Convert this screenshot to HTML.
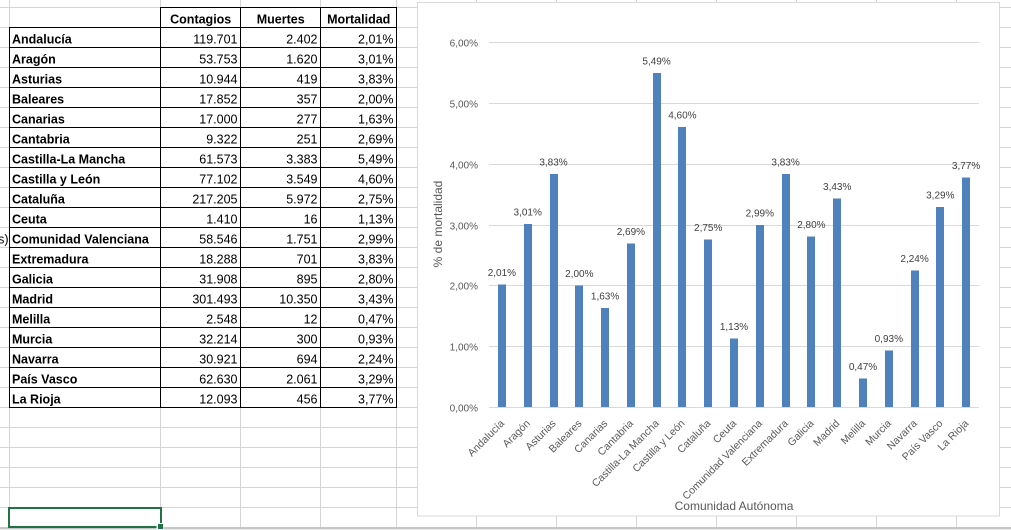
<!DOCTYPE html>
<html><head><meta charset="utf-8"><style>
html,body{margin:0;padding:0;background:#fff;width:1011px;height:530px;overflow:hidden}
svg{display:block}
.g{stroke:#d4d4d4;stroke-width:1}
.b{stroke:#000;stroke-width:1}
.nm{font:bold 12.5px "Liberation Sans",sans-serif;fill:#000}
.nu{font:12.5px "Liberation Sans",sans-serif;fill:#000;text-anchor:end}
.hd{font:bold 12.5px "Liberation Sans",sans-serif;fill:#000;text-anchor:middle}
.tk{font:10px "Liberation Sans",sans-serif;fill:#595959;text-anchor:end}
.dl{font:10px "Liberation Sans",sans-serif;fill:#404040;text-anchor:middle}
.xl{font:10.5px "Liberation Sans",sans-serif;fill:#595959;text-anchor:end}
.ti{font:12px "Liberation Sans",sans-serif;fill:#595959;text-anchor:middle}
</style></head><body>
<svg width="1011" height="530" viewBox="0 0 1011 530" xmlns="http://www.w3.org/2000/svg">
<rect width="1011" height="530" fill="#fff"/>
<g shape-rendering="crispEdges">
<g class="g">
<line x1="0" y1="7.5" x2="1011" y2="7.5"/><line x1="0" y1="27.5" x2="1011" y2="27.5"/><line x1="0" y1="47.5" x2="1011" y2="47.5"/><line x1="0" y1="67.5" x2="1011" y2="67.5"/><line x1="0" y1="87.5" x2="1011" y2="87.5"/><line x1="0" y1="107.5" x2="1011" y2="107.5"/><line x1="0" y1="127.5" x2="1011" y2="127.5"/><line x1="0" y1="147.5" x2="1011" y2="147.5"/><line x1="0" y1="167.5" x2="1011" y2="167.5"/><line x1="0" y1="187.5" x2="1011" y2="187.5"/><line x1="0" y1="207.5" x2="1011" y2="207.5"/><line x1="0" y1="227.5" x2="1011" y2="227.5"/><line x1="0" y1="247.5" x2="1011" y2="247.5"/><line x1="0" y1="267.5" x2="1011" y2="267.5"/><line x1="0" y1="287.5" x2="1011" y2="287.5"/><line x1="0" y1="307.5" x2="1011" y2="307.5"/><line x1="0" y1="327.5" x2="1011" y2="327.5"/><line x1="0" y1="347.5" x2="1011" y2="347.5"/><line x1="0" y1="367.5" x2="1011" y2="367.5"/><line x1="0" y1="387.5" x2="1011" y2="387.5"/><line x1="0" y1="407.5" x2="1011" y2="407.5"/><line x1="0" y1="427.5" x2="1011" y2="427.5"/><line x1="0" y1="447.5" x2="1011" y2="447.5"/><line x1="0" y1="467.5" x2="1011" y2="467.5"/><line x1="0" y1="487.5" x2="1011" y2="487.5"/><line x1="0" y1="507.5" x2="1011" y2="507.5"/>
<line x1="9.5" y1="0" x2="9.5" y2="527"/><line x1="160.5" y1="0" x2="160.5" y2="527"/><line x1="240.5" y1="0" x2="240.5" y2="527"/><line x1="320.5" y1="0" x2="320.5" y2="527"/><line x1="396.5" y1="0" x2="396.5" y2="527"/><line x1="476.5" y1="0" x2="476.5" y2="527"/><line x1="556.5" y1="0" x2="556.5" y2="527"/><line x1="636.5" y1="0" x2="636.5" y2="527"/><line x1="716.5" y1="0" x2="716.5" y2="527"/><line x1="796.5" y1="0" x2="796.5" y2="527"/><line x1="876.5" y1="0" x2="876.5" y2="527"/><line x1="956.5" y1="0" x2="956.5" y2="527"/>
</g>
<rect x="0" y="527" width="1011" height="2" fill="#c6c6c6"/>
<rect x="0" y="529" width="1011" height="1" fill="#e8e8e8"/>
<g class="b">
<line x1="160" y1="7.5" x2="397" y2="7.5"/>
<line x1="9" y1="27.5" x2="397" y2="27.5"/><line x1="9" y1="47.5" x2="397" y2="47.5"/><line x1="9" y1="67.5" x2="397" y2="67.5"/><line x1="9" y1="87.5" x2="397" y2="87.5"/><line x1="9" y1="107.5" x2="397" y2="107.5"/><line x1="9" y1="127.5" x2="397" y2="127.5"/><line x1="9" y1="147.5" x2="397" y2="147.5"/><line x1="9" y1="167.5" x2="397" y2="167.5"/><line x1="9" y1="187.5" x2="397" y2="187.5"/><line x1="9" y1="207.5" x2="397" y2="207.5"/><line x1="9" y1="227.5" x2="397" y2="227.5"/><line x1="9" y1="247.5" x2="397" y2="247.5"/><line x1="9" y1="267.5" x2="397" y2="267.5"/><line x1="9" y1="287.5" x2="397" y2="287.5"/><line x1="9" y1="307.5" x2="397" y2="307.5"/><line x1="9" y1="327.5" x2="397" y2="327.5"/><line x1="9" y1="347.5" x2="397" y2="347.5"/><line x1="9" y1="367.5" x2="397" y2="367.5"/><line x1="9" y1="387.5" x2="397" y2="387.5"/><line x1="9" y1="407.5" x2="397" y2="407.5"/>
<line x1="9.5" y1="27" x2="9.5" y2="408"/><line x1="160.5" y1="7" x2="160.5" y2="408"/><line x1="240.5" y1="7" x2="240.5" y2="408"/><line x1="320.5" y1="7" x2="320.5" y2="408"/><line x1="396.5" y1="7" x2="396.5" y2="408"/>
</g>
<rect x="9" y="508" width="152" height="19" fill="none" stroke="#217346" stroke-width="2"/>
<rect x="156.5" y="523" width="7" height="7" fill="#fff"/>
<rect x="158" y="524" width="5" height="5" fill="#217346"/>
</g>
<text class="hd" x="200.7" y="23.5">Contagios</text>
<text class="hd" x="280.7" y="23.5">Muertes</text>
<text class="hd" x="358.7" y="23.5">Mortalidad</text>
<text x="8.5" y="243.5" style="font:12.5px 'Liberation Sans',sans-serif;text-anchor:end">s)</text>
<g class="nm">
<text x="12" y="43.5">Andalucía</text><text x="12" y="63.5">Aragón</text><text x="12" y="83.5">Asturias</text><text x="12" y="103.5">Baleares</text><text x="12" y="123.5">Canarias</text><text x="12" y="143.5">Cantabria</text><text x="12" y="163.5">Castilla-La Mancha</text><text x="12" y="183.5">Castilla y León</text><text x="12" y="203.5">Cataluña</text><text x="12" y="223.5">Ceuta</text><text x="12" y="243.5">Comunidad Valenciana</text><text x="12" y="263.5">Extremadura</text><text x="12" y="283.5">Galicia</text><text x="12" y="303.5">Madrid</text><text x="12" y="323.5">Melilla</text><text x="12" y="343.5">Murcia</text><text x="12" y="363.5">Navarra</text><text x="12" y="383.5">País Vasco</text><text x="12" y="403.5">La Rioja</text>
</g>
<g class="nu">
<text x="237.5" y="43.5">119.701</text><text x="237.5" y="63.5">53.753</text><text x="237.5" y="83.5">10.944</text><text x="237.5" y="103.5">17.852</text><text x="237.5" y="123.5">17.000</text><text x="237.5" y="143.5">9.322</text><text x="237.5" y="163.5">61.573</text><text x="237.5" y="183.5">77.102</text><text x="237.5" y="203.5">217.205</text><text x="237.5" y="223.5">1.410</text><text x="237.5" y="243.5">58.546</text><text x="237.5" y="263.5">18.288</text><text x="237.5" y="283.5">31.908</text><text x="237.5" y="303.5">301.493</text><text x="237.5" y="323.5">2.548</text><text x="237.5" y="343.5">32.214</text><text x="237.5" y="363.5">30.921</text><text x="237.5" y="383.5">62.630</text><text x="237.5" y="403.5">12.093</text>
<text x="317.5" y="43.5">2.402</text><text x="317.5" y="63.5">1.620</text><text x="317.5" y="83.5">419</text><text x="317.5" y="103.5">357</text><text x="317.5" y="123.5">277</text><text x="317.5" y="143.5">251</text><text x="317.5" y="163.5">3.383</text><text x="317.5" y="183.5">3.549</text><text x="317.5" y="203.5">5.972</text><text x="317.5" y="223.5">16</text><text x="317.5" y="243.5">1.751</text><text x="317.5" y="263.5">701</text><text x="317.5" y="283.5">895</text><text x="317.5" y="303.5">10.350</text><text x="317.5" y="323.5">12</text><text x="317.5" y="343.5">300</text><text x="317.5" y="363.5">694</text><text x="317.5" y="383.5">2.061</text><text x="317.5" y="403.5">456</text>
<text x="393.5" y="43.5">2,01%</text><text x="393.5" y="63.5">3,01%</text><text x="393.5" y="83.5">3,83%</text><text x="393.5" y="103.5">2,00%</text><text x="393.5" y="123.5">1,63%</text><text x="393.5" y="143.5">2,69%</text><text x="393.5" y="163.5">5,49%</text><text x="393.5" y="183.5">4,60%</text><text x="393.5" y="203.5">2,75%</text><text x="393.5" y="223.5">1,13%</text><text x="393.5" y="243.5">2,99%</text><text x="393.5" y="263.5">3,83%</text><text x="393.5" y="283.5">2,80%</text><text x="393.5" y="303.5">3,43%</text><text x="393.5" y="323.5">0,47%</text><text x="393.5" y="343.5">0,93%</text><text x="393.5" y="363.5">2,24%</text><text x="393.5" y="383.5">3,29%</text><text x="393.5" y="403.5">3,77%</text>
</g>
<rect x="417.5" y="2.5" width="582" height="513.5" fill="#fff" stroke="#d9d9d9" stroke-width="1" shape-rendering="crispEdges"/>
<g stroke="#d9d9d9" stroke-width="1" shape-rendering="crispEdges">
<line x1="489" y1="42.5" x2="979" y2="42.5"/><line x1="489" y1="103.5" x2="979" y2="103.5"/><line x1="489" y1="164.5" x2="979" y2="164.5"/><line x1="489" y1="225.5" x2="979" y2="225.5"/><line x1="489" y1="285.5" x2="979" y2="285.5"/><line x1="489" y1="346.5" x2="979" y2="346.5"/>
</g>
<g class="tk">
<text x="478" y="46.5">6,00%</text><text x="478" y="107.5">5,00%</text><text x="478" y="168.5">4,00%</text><text x="478" y="229.5">3,00%</text><text x="478" y="289.5">2,00%</text><text x="478" y="350.5">1,00%</text><text x="478" y="411.5">0,00%</text>
</g>
<g fill="#4f81bd" shape-rendering="crispEdges">
<rect x="498" y="284.7" width="8" height="122.3"/>
<rect x="524" y="223.9" width="8" height="183.1"/>
<rect x="550" y="174" width="8" height="233"/>
<rect x="575" y="285.3" width="8" height="121.7"/>
<rect x="601" y="307.8" width="8" height="99.2"/>
<rect x="627" y="243.4" width="8" height="163.6"/>
<rect x="653" y="73" width="8" height="334"/>
<rect x="678" y="127.2" width="8" height="279.8"/>
<rect x="704" y="239.7" width="8" height="167.3"/>
<rect x="730" y="338.3" width="8" height="68.7"/>
<rect x="756" y="225.1" width="8" height="181.9"/>
<rect x="782" y="174" width="8" height="233"/>
<rect x="807" y="236.7" width="8" height="170.3"/>
<rect x="833" y="198.4" width="8" height="208.6"/>
<rect x="859" y="378.4" width="8" height="28.6"/>
<rect x="885" y="350.4" width="8" height="56.6"/>
<rect x="911" y="270.7" width="8" height="136.3"/>
<rect x="936" y="206.9" width="8" height="200.1"/>
<rect x="962" y="177.7" width="8" height="229.3"/>
</g>
<line x1="489" y1="407.5" x2="979" y2="407.5" stroke="#d9d9d9" stroke-width="1" shape-rendering="crispEdges"/>
<g class="dl">
<text x="501.9" y="276.2">2,01%</text><text x="527.7" y="215.4">3,01%</text><text x="553.5" y="165.5">3,83%</text><text x="579.3" y="276.8">2,00%</text><text x="605.1" y="299.3">1,63%</text><text x="630.9" y="234.9">2,69%</text><text x="656.6" y="64.5">5,49%</text><text x="682.4" y="118.7">4,60%</text><text x="708.2" y="231.2">2,75%</text><text x="734" y="329.8">1,13%</text><text x="759.8" y="216.6">2,99%</text><text x="785.6" y="165.5">3,83%</text><text x="811.4" y="228.2">2,80%</text><text x="837.2" y="189.9">3,43%</text><text x="863" y="369.9">0,47%</text><text x="888.8" y="341.9">0,93%</text><text x="914.6" y="262.2">2,24%</text><text x="940.3" y="198.4">3,29%</text><text x="966.1" y="169.2">3,77%</text>
</g>
<g class="xl">
<text transform="translate(504.9,424) rotate(-45)">Andalucía</text>
<text transform="translate(530.7,424) rotate(-45)">Aragón</text>
<text transform="translate(556.5,424) rotate(-45)">Asturias</text>
<text transform="translate(582.3,424) rotate(-45)">Baleares</text>
<text transform="translate(608.1,424) rotate(-45)">Canarias</text>
<text transform="translate(633.9,424) rotate(-45)">Cantabria</text>
<text transform="translate(659.6,424) rotate(-45)">Castilla-La Mancha</text>
<text transform="translate(685.4,424) rotate(-45)">Castilla y León</text>
<text transform="translate(711.2,424) rotate(-45)">Cataluña</text>
<text transform="translate(737,424) rotate(-45)">Ceuta</text>
<text transform="translate(762.8,424) rotate(-45)">Comunidad Valenciana</text>
<text transform="translate(788.6,424) rotate(-45)">Extremadura</text>
<text transform="translate(814.4,424) rotate(-45)">Galicia</text>
<text transform="translate(840.2,424) rotate(-45)">Madrid</text>
<text transform="translate(866,424) rotate(-45)">Melilla</text>
<text transform="translate(891.8,424) rotate(-45)">Murcia</text>
<text transform="translate(917.6,424) rotate(-45)">Navarra</text>
<text transform="translate(943.3,424) rotate(-45)">País Vasco</text>
<text transform="translate(969.1,424) rotate(-45)">La Rioja</text>
</g>
<text class="ti" x="734" y="510">Comunidad Autónoma</text>
<text class="ti" transform="translate(442,224) rotate(-90)">% de mortalidad</text>
</svg>
</body></html>
